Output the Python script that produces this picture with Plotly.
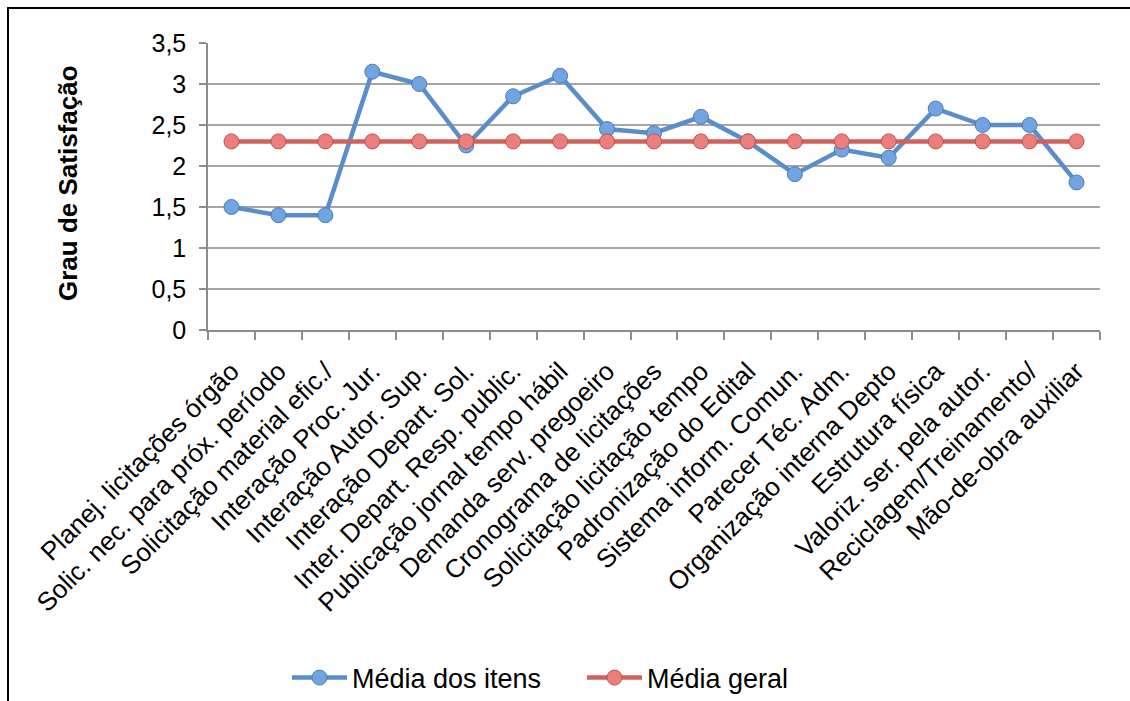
import plotly.graph_objects as go

categorias = [
    "Planej. licitações órgão",
    "Solic. nec. para próx. período",
    "Solicitação material efic./",
    "Interação Proc. Jur.",
    "Interação Autor. Sup.",
    "Interação Depart. Sol.",
    "Inter. Depart. Resp. public.",
    "Publicação jornal tempo hábil",
    "Demanda serv. pregoeiro",
    "Cronograma de licitações",
    "Solicitação licitação tempo",
    "Padronização do Edital",
    "Sistema inform. Comun.",
    "Parecer Téc. Adm.",
    "Organização interna Depto",
    "Estrutura física",
    "Valoriz. ser. pela autor.",
    "Reciclagem/Treinamento/",
    "Mão-de-obra auxiliar",
]
media_itens = [1.5, 1.4, 1.4, 3.15, 3.0, 2.25, 2.85, 3.1, 2.45, 2.4,
               2.6, 2.3, 1.9, 2.2, 2.1, 2.7, 2.5, 2.5, 1.8]
media_geral = [2.3] * len(categorias)

W, H = 1130, 701
ML, MR, MT, MB = 208, 30, 43, 371
pw, ph = W - ML - MR, H - MT - MB

fig = go.Figure()
fig.add_trace(go.Scatter(
    x=categorias, y=media_itens, name="Média dos itens",
    mode="lines+markers",
    line=dict(color="#5A8ECB", width=4.5),
    marker=dict(size=15, color="#71A4E0", line=dict(color="#4A7DBA", width=1)),
))
fig.add_trace(go.Scatter(
    x=categorias, y=media_geral, name="Média geral",
    mode="lines+markers",
    line=dict(color="#D2605C", width=4.5),
    marker=dict(size=15, color="#EB7F7B", line=dict(color="#C0504D", width=1)),
))

# outer chart frame (left and top edges visible)
fig.add_shape(type="rect", xref="paper", yref="paper",
              x0=(8 - ML) / pw, x1=(W + 20 - ML) / pw,
              y0=-(H + 20 - MT - ph) / ph, y1=1 + (MT - 8) / ph,
              line=dict(color="black", width=2), fillcolor="rgba(0,0,0,0)",
              layer="below")

# vertical y-axis title
fig.add_annotation(
    text="<b>Grau de Satisfação</b>", textangle=-90,
    xref="paper", yref="paper", x=(68 - ML) / pw, y=(330 - 183) / ph,
    xanchor="center", yanchor="middle", showarrow=False,
    font=dict(size=26),
)

fig.update_layout(
    width=W, height=H,
    margin=dict(l=ML, r=MR, t=MT, b=MB, autoexpand=False),
    paper_bgcolor="white", plot_bgcolor="white",
    separators=",.",
    font=dict(family="Liberation Sans, Arial, sans-serif", color="black"),
    showlegend=True,
    legend=dict(orientation="h", x=(287 - ML) / pw, xanchor="left",
                y=(MB - (H - 678)) / -ph, yanchor="middle",
                font=dict(size=27), itemwidth=55, entrywidth=225),
    xaxis=dict(
        type="category", tickangle=-45, tickfont=dict(size=26),
        showgrid=False, showline=True, linecolor="#8C8C8C", linewidth=1.5,
        ticks="outside", tickson="boundaries", ticklen=8,
        tickcolor="#8C8C8C", tickwidth=1.5, ticklabelstandoff=14,
        range=[-0.5, len(categorias) - 0.5], automargin=False,
    ),
    yaxis=dict(
        range=[0, 3.5], dtick=0.5, tickfont=dict(size=25),
        showgrid=True, gridcolor="#A6A6A6", gridwidth=1.5,
        showline=True, linecolor="#8C8C8C", linewidth=1.5,
        ticks="outside", ticklen=7, tickcolor="#8C8C8C", tickwidth=1.5,
        ticklabelstandoff=8, zeroline=False, automargin=False,
    ),
)

fig.write_html("out.html")
